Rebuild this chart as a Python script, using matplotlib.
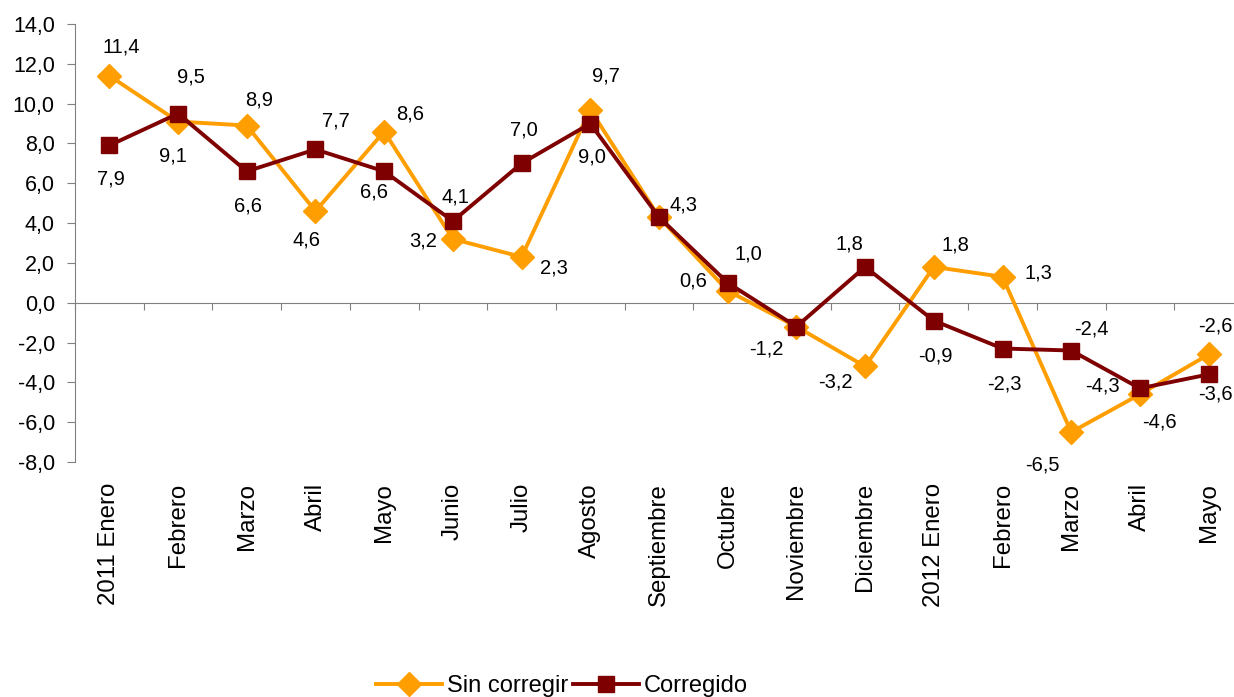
import matplotlib
matplotlib.use("Agg")
import matplotlib.pyplot as plt
import matplotlib.transforms as mtransforms

plt.rcParams['font.family'] = ['Liberation Sans', 'DejaVu Sans']

categories = ["2011 Enero", "Febrero", "Marzo", "Abril", "Mayo", "Junio", "Julio",
              "Agosto", "Septiembre", "Octubre", "Noviembre", "Diciembre",
              "2012 Enero", "Febrero", "Marzo", "Abril", "Mayo"]
sin_corregir = [11.4, 9.1, 8.9, 4.6, 8.6, 3.2, 2.3, 9.7, 4.3, 0.6, -1.2, -3.2,
                1.8, 1.3, -6.5, -4.6, -2.6]
corregido = [7.9, 9.5, 6.6, 7.7, 6.6, 4.1, 7.0, 9.0, 4.3, 1.0, -1.2, 1.8,
             -0.9, -2.3, -2.4, -4.3, -3.6]
yticks = [-8, -6, -4, -2, 0, 2, 4, 6, 8, 10, 12, 14]

# label offsets in pixels (None = no label)
off_sin = [(12, 29), (-5, -34), (12, 26), (-9, -29), (26, 18), (-30, -2), (32, -11),
           (16, 34), (25, 12), (-35, 10), (-30, -22), (-30, -16), (22, 22), (36, 4),
           (-29, -33), (19, -28), (7, 28)]
off_cor = [(2, -34), (13, 37), (1, -35), (20, 28), (-10, -21), (3, 24), (2, 33),
           (2, -33), None, (21, 29), None, (-16, 23), (2, -35), (2, -35),
           (20, 22), (-38, 2), (7, -20)]

W, H = 1234, 697
fig = plt.figure(figsize=(W / 100, H / 100), dpi=100)
left, right, top, bottom = 75, 1243, 24, 462
ax = fig.add_axes([left / W, (H - bottom) / H, (right - left) / W, (bottom - top) / H])

orange = '#FF9E00'
dred = '#7F0000'
x = list(range(len(categories)))
l1, = ax.plot(x, sin_corregir, color=orange, lw=2.8, marker='D', ms=12,
              label='Sin corregir', zorder=3)
l2, = ax.plot(x, corregido, color=dred, lw=2.8, marker='s', ms=12,
              label='Corregido', zorder=4)

def fmt(v):
    return f"{v:.1f}".replace('.', ',')

for series, offs in ((sin_corregir, off_sin), (corregido, off_cor)):
    for i, (v, o) in enumerate(zip(series, offs)):
        if o is None:
            continue
        ax.annotate(fmt(v), (i, v), xytext=o, textcoords='offset pixels',
                    ha='center', va='center', fontsize=14.5, color='black')

ax.set_xlim(-0.5, len(categories) - 0.5)
ax.set_ylim(-8, 14)
ax.set_yticks(yticks)
ax.set_yticklabels([fmt(t) for t in yticks], fontsize=15.5)

for s in ('top', 'right'):
    ax.spines[s].set_visible(False)
ax.spines['left'].set_color('#808080')
ax.spines['bottom'].set_position(('data', 0))
ax.spines['bottom'].set_color('#808080')
ax.set_xticks([i - 0.5 for i in range(len(categories) + 1)])
ax.set_xticklabels([])
ax.tick_params(axis='x', direction='out', length=5, color='#808080')
ax.tick_params(axis='y', direction='out', length=5.5, color='#808080', pad=9)

trans = mtransforms.blended_transform_factory(ax.transData, ax.transAxes)
for i, c in enumerate(categories):
    ax.text(i, -0.048, c, transform=trans, rotation=90, ha='center', va='top',
            fontsize=17.3)

fig.legend(handles=[l1, l2], loc='center', bbox_to_anchor=(562 / W, 1 - 686 / H),
           ncol=2, frameon=False, fontsize=17, handlelength=2.8,
           columnspacing=0.2, handletextpad=0.2)

fig.savefig('out.png', dpi=100)
